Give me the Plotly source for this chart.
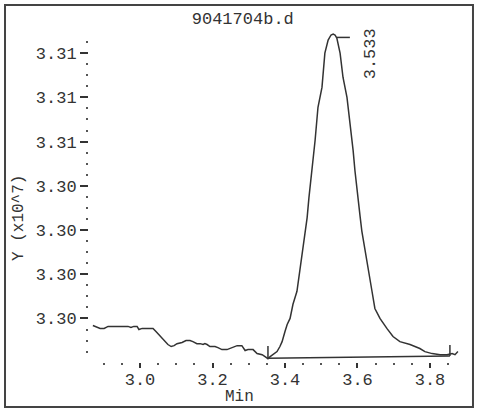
import plotly.graph_objects as go

# Retention time (min) and signal (x10^7)
rt = [2.870, 2.881, 2.890, 2.901, 2.912, 2.931, 2.950, 2.967, 2.975, 2.983, 2.992, 2.997,
      3.006, 3.022, 3.036, 3.044, 3.052, 3.061, 3.069, 3.077, 3.086, 3.094, 3.102, 3.116,
      3.127, 3.138, 3.146, 3.157, 3.166, 3.174, 3.179, 3.185, 3.193, 3.207, 3.215, 3.226,
      3.240, 3.248, 3.259, 3.268, 3.281, 3.290, 3.298, 3.312, 3.323, 3.337, 3.345, 3.353,
      3.359, 3.370, 3.378, 3.386, 3.392, 3.400, 3.406, 3.414, 3.422, 3.433, 3.441, 3.450,
      3.461, 3.466, 3.474, 3.477, 3.483, 3.491, 3.502, 3.510, 3.519, 3.527, 3.533, 3.538,
      3.543, 3.552, 3.560, 3.571, 3.579, 3.588, 3.593, 3.601, 3.607, 3.612, 3.621, 3.629,
      3.640, 3.648, 3.662, 3.681, 3.698, 3.717, 3.745, 3.772, 3.786, 3.806, 3.828, 3.847,
      3.861, 3.869, 3.877]
signal = [3.29768, 3.29759, 3.29755, 3.29755, 3.29764, 3.29764, 3.29764, 3.29764, 3.29759, 3.29764, 3.29764, 3.29750,
          3.29755, 3.29755, 3.29755, 3.29741, 3.29727, 3.29714, 3.29700, 3.29682, 3.29673, 3.29677, 3.29686, 3.29691,
          3.29700, 3.29700, 3.29695, 3.29686, 3.29686, 3.29682, 3.29686, 3.29682, 3.29673, 3.29673, 3.29668, 3.29659,
          3.29659, 3.29664, 3.29668, 3.29677, 3.29677, 3.29655, 3.29659, 3.29659, 3.29641, 3.29636, 3.29627, 3.29618,
          3.29627, 3.29641, 3.29650, 3.29673, 3.29695, 3.29741, 3.29773, 3.29800, 3.29864, 3.29923, 3.30014, 3.30118,
          3.30255, 3.30345, 3.30455, 3.30500, 3.30605, 3.30755, 3.30845, 3.31000, 3.31059, 3.31082, 3.31086, 3.31082,
          3.31068, 3.31000, 3.30891, 3.30800, 3.30695, 3.30559, 3.30468, 3.30332, 3.30264, 3.30195, 3.30105, 3.30014,
          3.29923, 3.29845, 3.29800, 3.29755, 3.29718, 3.29695, 3.29682, 3.29664, 3.29650, 3.29641, 3.29636, 3.29636,
          3.29641, 3.29636, 3.29650]

baseline_rt = [3.353, 3.855]
baseline_signal = [3.29620, 3.29630]

peak_rt = 3.533
peak_label = "3.533"
title_text = "9041704b.d"
y_tickvals = [3.298, 3.300, 3.302, 3.304, 3.306, 3.308, 3.310]
y_ticktext = ["3.30", "3.30", "3.30", "3.30", "3.31", "3.31", "3.31"]

FONT = "Liberation Mono"
INK = "#333333"

fig = go.Figure()
fig.add_trace(go.Scatter(x=rt, y=signal, mode="lines",
                         line=dict(color=INK, width=1.5), hoverinfo="skip", showlegend=False))
fig.add_trace(go.Scatter(x=baseline_rt, y=baseline_signal, mode="lines",
                         line=dict(color=INK, width=1.5), hoverinfo="skip", showlegend=False))

peak_h = max(signal)
shapes = [
    # integration start / end markers
    dict(type="line", xref="x", yref="y", x0=baseline_rt[0], x1=baseline_rt[0],
         y0=baseline_signal[0], y1=baseline_signal[0] + 0.00055, line=dict(color=INK, width=1.5)),
    dict(type="line", xref="x", yref="y", x0=baseline_rt[1], x1=baseline_rt[1],
         y0=baseline_signal[1], y1=baseline_signal[1] + 0.0005, line=dict(color=INK, width=1.5)),
    # apex marker
    dict(type="line", xref="x", yref="y", x0=peak_rt + 0.01, x1=peak_rt + 0.046,
         y0=peak_h - 0.00015, y1=peak_h - 0.00015, line=dict(color=INK, width=1.5)),
    # outer frame
    dict(type="rect", xref="paper", yref="paper", x0=-0.2264, x1=1.0350, y0=-0.1368, y1=1.0851,
         line=dict(color="#444444", width=2)),
]

annotations = [
    dict(text=peak_label, x=peak_rt, y=peak_h, xref="x", yref="y", showarrow=False,
         textangle=-90, xshift=37, yshift=-20, xanchor="center", yanchor="middle",
         font=dict(family=FONT, size=17, color=INK)),
    dict(text="Y (x10^7)", x=-0.1887, y=0.4377, xref="paper", yref="paper", showarrow=False,
         textangle=-90, xanchor="center", yanchor="middle",
         font=dict(family=FONT, size=16, color=INK)),
    dict(text="Min", x=0.407, y=-0.1064, xref="paper", yref="paper", showarrow=False,
         xanchor="center", yanchor="middle",
         font=dict(family=FONT, size=16, color=INK)),
]

fig.update_layout(
    width=477, height=411,
    margin=dict(l=89, r=17, t=33, b=49),
    paper_bgcolor="white", plot_bgcolor="white",
    title=dict(text=title_text, x=0.509, xanchor="center", y=1 - 18 / 411, yanchor="middle",
               font=dict(family=FONT, size=17, color=INK)),
    shapes=shapes, annotations=annotations,
    showlegend=False,
)
fig.update_xaxes(
    range=[2.8593, 3.8828], showgrid=False, zeroline=False, showline=False,
    tick0=3.0, dtick=0.2, tickformat=".1f", ticks="outside", ticklen=5, tickwidth=1.5, tickcolor=INK,
    tickfont=dict(family=FONT, size=17, color=INK), ticklabelstandoff=-3,
    minor=dict(dtick=0.05, tick0=2.9, ticks="outside", ticklen=2, tickwidth=2, tickcolor="#555555"),
)
fig.update_yaxes(
    range=[3.29603, 3.31091], showgrid=False, zeroline=False, showline=False,
    tickvals=y_tickvals, ticktext=y_ticktext, ticks="outside", ticklen=8, tickwidth=1.5, tickcolor=INK,
    tickfont=dict(family=FONT, size=17, color=INK),
    minor=dict(dtick=0.0005, tick0=3.298, ticks="outside", ticklen=2, tickwidth=2, tickcolor="#555555"),
)

fig.write_html("out.html")
